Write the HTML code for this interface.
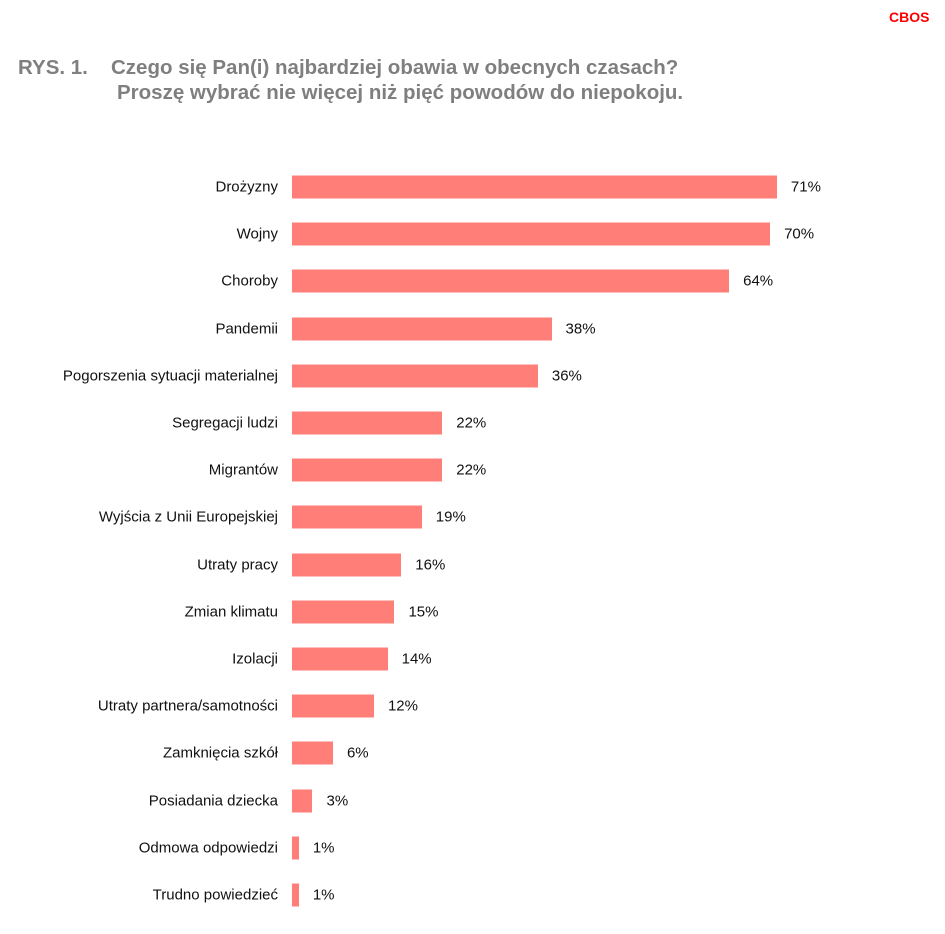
<!DOCTYPE html>
<html><head><meta charset="utf-8"><style>
body{margin:0;width:945px;height:934px;background:#fff;position:relative;font-family:"Liberation Sans",sans-serif;overflow:hidden}
.t{position:absolute;color:#7f7f7f;font-weight:bold;font-size:20.5px;white-space:nowrap}
.l{position:absolute;right:667px;font-size:15px;color:#111;white-space:nowrap;transform:translateY(-50%)}
.b{position:absolute;left:292px;height:23px;background:#ff7f78;transform:translateY(-50%)}
.v{position:absolute;font-size:15px;color:#111;transform:translateY(-50%)}
</style></head><body>
<div style="position:absolute;left:889px;top:9px;color:#f00;font-size:14px;font-weight:bold">CBOS</div>
<div class="t" style="left:18px;top:56px">RYS. 1.</div>
<div class="t" style="left:111px;top:56px">Czego się Pan(i) najbardziej obawia w obecnych czasach?</div>
<div class="t" style="left:117px;top:81px">Proszę wybrać nie więcej niż pięć powodów do niepokoju.</div>
<div id="c"></div>
<script>
var d=[["Drożyzny",71],["Wojny",70],["Choroby",64],["Pandemii",38],["Pogorszenia sytuacji materialnej",36],["Segregacji ludzi",22],["Migrantów",22],["Wyjścia z Unii Europejskiej",19],["Utraty pracy",16],["Zmian klimatu",15],["Izolacji",14],["Utraty partnera/samotności",12],["Zamknięcia szkół",6],["Posiadania dziecka",3],["Odmowa odpowiedzi",1],["Trudno powiedzieć",1]];
var h="";d.forEach(function(r,i){var y=187+i*47.2,w=r[1]*6.83;
h+='<div class="l" style="top:'+y+'px">'+r[0]+'</div><div class="b" style="top:'+y+'px;width:'+w+'px"></div><div class="v" style="top:'+y+'px;left:'+(292+w+14)+'px">'+r[1]+'%</div>';});
document.getElementById("c").innerHTML=h;
</script>
</body></html>
